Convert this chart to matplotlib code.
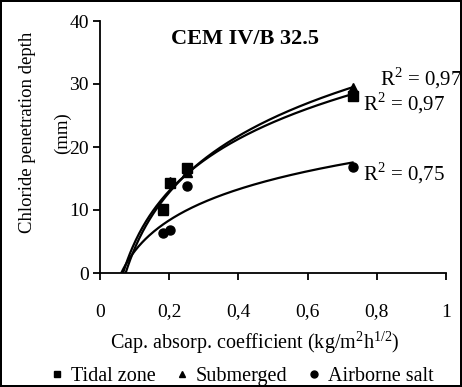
import numpy as np
import matplotlib
matplotlib.use('Agg')
import matplotlib.pyplot as plt
from matplotlib.lines import Line2D

plt.rcParams['font.family'] = ['Liberation Serif', 'DejaVu Serif']
plt.rcParams['mathtext.fontset'] = 'custom'
plt.rcParams['mathtext.rm'] = 'Liberation Serif'

# capillary absorption coefficient vs chloride penetration depth
tidal_x = [0.183, 0.203, 0.25, 0.73]
tidal_y = [10.2, 14.3, 16.7, 28.1]
sub_x = [0.183, 0.203, 0.25, 0.73]
sub_y = [10.0, 14.5, 16.0, 29.3]
air_x = [0.183, 0.203, 0.25, 0.73]
air_y = [6.3, 6.8, 13.8, 16.8]
r2_labels = ['0,97', '0,97', '0,75']
series_names = ['Tidal zone', 'Submerged', 'Airborne salt']

W, H = 462, 387
fig = plt.figure(figsize=(W / 100, H / 100), dpi=100)
fig.patch.set_edgecolor('black')
fig.patch.set_linewidth(1.5)
ax = fig.add_axes([100 / W, 1 - 273 / H, 346 / W, 252 / H])


def log_trend(x, y):
    c, b = np.polyfit(np.log(x), y, 1)
    x0 = np.exp(-b / c)
    xs = np.linspace(x0, max(x), 200)
    return xs, c * np.log(xs) + b


for x, y, m in [(tidal_x, tidal_y, 's'), (sub_x, sub_y, '^'), (air_x, air_y, 'o')]:
    xs, ys = log_trend(x, y)
    ax.plot(xs, ys, color='black', lw=1.6)
    ax.plot(x, y, ls='none', marker=m, color='black', ms=6.5)

ax.set_xlim(0, 1)
ax.set_ylim(0, 40)
ax.set_xticks([0, 0.2, 0.4, 0.6, 0.8, 1])
ax.set_xticklabels(['0', '0,2', '0,4', '0,6', '0,8', '1'])
ax.set_yticks([0, 10, 20, 30, 40])
for s in ['top', 'right']:
    ax.spines[s].set_visible(False)
for s in ['left', 'bottom']:
    ax.spines[s].set_linewidth(1.3)
ax.tick_params(direction='out', length=5, width=1.3, labelsize=14)
ax.tick_params(axis='x', pad=17)
ax.tick_params(axis='y', pad=3)

fig.text(255 / W, 1 - 343 / H, 'Cap. absorp. coefficient (kg/m$^2$h$^{1/2}$)',
         fontsize=14.5, ha='center', va='center')
fig.text(28 / W, 1 - 132 / H, 'Chloride penetration depth', fontsize=13.5,
         rotation=90, ha='center', va='center')
fig.text(62 / W, 1 - 133 / H, '(mm)', fontsize=13.5,
         rotation=90, ha='center', va='center')
ax.text(0.205, 0.929, 'CEM IV/B 32.5', transform=ax.transAxes, fontsize=16,
        fontweight='bold', ha='left', va='center')

# R^2 labels next to the line ends
for (lx, ly), lab in zip([(0.809, 30.9), (0.76, 26.9), (0.76, 15.8)], r2_labels):
    ax.text(lx, ly, 'R$^2$ = ' + lab, fontsize=15, ha='left', va='center',
            clip_on=False)

handles = [Line2D([], [], ls='none', marker=m, color='black', ms=5)
           for m in ['s', '^', 'o']]
fig.legend(handles, series_names, loc='center', bbox_to_anchor=(242 / W, 1 - 376 / H),
           ncol=3, frameon=False, fontsize=14.5, handlelength=0.6,
           handletextpad=0.4, columnspacing=1.0)

fig.savefig('out.png', dpi=100)
